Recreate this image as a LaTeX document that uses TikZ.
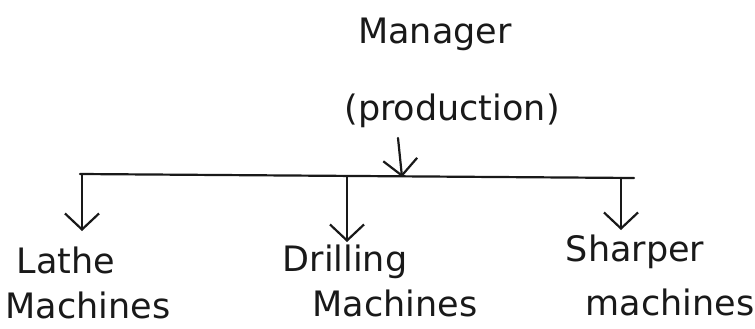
\documentclass[tikz,border=0pt]{standalone}
\usepackage{fontspec}
\setmainfont{DejaVu Sans}
\usetikzlibrary{arrows.meta}
\tikzset{
  lbl/.style={font=\fontsize{35}{35}\selectfont, inner sep=0pt, text=black!90},
  wire/.style={line width=2.2pt, draw=black!90, line cap=round},
  dn/.style={wire, -{Straight Barb[length=16pt,width=34pt,line width=2.2pt]}}
}
\begin{document}
\begin{tikzpicture}[x=1pt,y=-1pt]
  \useasboundingbox[fill=white] (0,0) rectangle (755,329);

  % heading
  \node[lbl] (mgr) at (435,34) {Manager};
  \node[lbl] (prod) at (452,111) {(production)};

  % bar that feeds the three departments
  \coordinate (bl) at (80,174);
  \coordinate (br) at (634,178);
  \coordinate (bm) at (402,177);
  \coordinate (d1) at (82,174.5);
  \coordinate (d2) at (347,176.5);
  \coordinate (d3) at (621,178);
  \coordinate (t1) at (82,231);
  \coordinate (t2) at (347,242);
  \coordinate (t3) at (621,230);
  \coordinate (ps) at (398,138);

  \draw[wire] (bl) -- (br);
  \draw[dn] (ps) -- (bm);
  \draw[dn] (d1) -- (t1);
  \draw[dn] (d2) -- (t2);
  \draw[dn] (d3) -- (t3);

  % departments
  \node[lbl] (lathe) at (66,260) {Lathe};
  \node[lbl] (lathem) at (88,305) {Machines};
  \node[lbl] (drill) at (345,262) {Drilling};
  \node[lbl] (drillm) at (395,303) {Machines};
  \node[lbl] (shap) at (635,252) {Sharper};
  \node[lbl] (shapm) at (670,302) {machines};
\end{tikzpicture}
\end{document}
